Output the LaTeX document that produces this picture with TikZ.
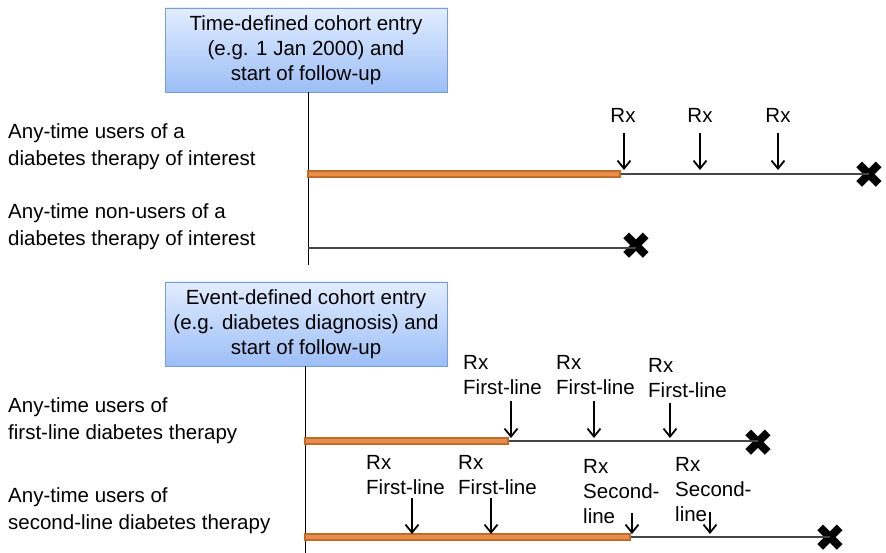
\documentclass[tikz,border=0pt]{standalone}
\usepackage{fontspec}
\setmainfont{Liberation Sans}
\newfontfamily\symfont{DejaVu Sans}
\usetikzlibrary{arrows.meta,calc}
\definecolor{boxtop}{RGB}{226,237,255}
\definecolor{boxbot}{RGB}{156,190,246}
\definecolor{boxborder}{RGB}{120,158,215}
\definecolor{orangeout}{RGB}{192,108,45}
\definecolor{orangein}{RGB}{232,142,72}
\definecolor{tl}{RGB}{70,70,70}
\begin{document}
\begin{tikzpicture}[x=1pt,y=-1pt,
  font=\fontsize{20.5}{27}\selectfont,
  entrybox/.style={draw=boxborder, line width=0.8pt, top color=boxtop, bottom color=boxbot,
    minimum width=282pt, minimum height=84pt, align=center, inner sep=0pt,
    font=\fontsize{20.5}{25}\selectfont},
  lbl/.style={anchor=west, align=left, inner sep=0pt},
  rxlbl/.style={anchor=west, align=left, inner sep=0pt, font=\fontsize{20.5}{25}\selectfont},
  axisline/.style={draw=black, line width=0.8pt},
  follow/.style={draw=tl, line width=1.3pt},
  exposed/.style={draw=orangeout, fill=orangein, line width=1.2pt},
  rxarrow/.style={-{Straight Barb[length=8pt,width=13pt,line width=1.8pt]}, line width=1.8pt},
  death/.style={inner sep=0pt, font=\symfont\fontsize{38}{38}\selectfont}
]
\useasboundingbox (0,0) rectangle (886,553);

% ---------- Time-defined cohort ----------
\node[entrybox] (box1) at (306,50) {Time-defined cohort entry\\(e.g. 1 Jan 2000) and\\start of follow-up};
\coordinate (ax1b) at (308,265);
\draw[axisline] (box1.south -| ax1b) -- (ax1b);

\node[lbl] (l1) at (8,147) {Any-time users of a\\diabetes therapy of interest};
\node[lbl] (l2) at (8,227) {Any-time non-users of a\\diabetes therapy of interest};

% row 1
\coordinate (a1) at (308,174);
\coordinate (s1) at (620,174);
\node[death] (d1) at (869,175) {✖};
\draw[follow] (s1) -- (d1.center |- s1);
\draw[exposed] ($(a1)+(0,-3)$) rectangle ($(s1)+(0,3)$);
\node[rxlbl, anchor=center] (r11) at (623,115) {Rx};
\node[rxlbl, anchor=center] (r12) at (700,115) {Rx};
\node[rxlbl, anchor=center] (r13) at (778,115) {Rx};
\coordinate (t11) at (624,170);
\coordinate (t12) at (700,170);
\coordinate (t13) at (778,170);
\coordinate (f11) at (624,133);
\coordinate (f12) at (700,133);
\coordinate (f13) at (778,133);
\draw[rxarrow] (f11) -- (t11);
\draw[rxarrow] (f12) -- (t12);
\draw[rxarrow] (f13) -- (t13);

% row 2
\coordinate (a2) at (308,248);
\node[death] (d2) at (636,246) {✖};
\draw[follow] (a2) -- (d2.center |- a2);

% ---------- Event-defined cohort ----------
\node[entrybox] (box2) at (306,324) {Event-defined cohort entry\\(e.g. diabetes diagnosis) and\\start of follow-up};
\coordinate (ax2b) at (305,553);
\draw[axisline] (box2.south -| ax2b) -- (ax2b);

\node[lbl] (l3) at (8,421) {Any-time users of\\first-line diabetes therapy};
\node[lbl] (l4) at (8,511) {Any-time users of\\second-line diabetes therapy};

% row 3
\coordinate (a3) at (305,441);
\coordinate (s3) at (508,441);
\node[death] (d3) at (758,443) {✖};
\draw[follow] (s3) -- (d3.center |- s3);
\draw[exposed] ($(a3)+(0,-3)$) rectangle ($(s3)+(0,3)$);
\node[rxlbl] (r31) at (463,375) {Rx\\First-line};
\node[rxlbl] (r32) at (556,375) {Rx\\First-line};
\node[rxlbl] (r33) at (648,378) {Rx\\First-line};
\coordinate (t31) at (511,438);
\coordinate (t32) at (594,438);
\coordinate (t33) at (670,438);
\coordinate (f31) at (511,401);
\coordinate (f32) at (594,401);
\coordinate (f33) at (670,403);
\draw[rxarrow] (f31) -- (t31);
\draw[rxarrow] (f32) -- (t32);
\draw[rxarrow] (f33) -- (t33);

% row 4
\coordinate (a4) at (305,537);
\coordinate (s4) at (630,537);
\node[death] (d4) at (830,538) {✖};
\draw[follow] (s4) -- (d4.center |- s4);
\draw[exposed] ($(a4)+(0,-3)$) rectangle ($(s4)+(0,3)$);
\node[rxlbl] (r41) at (366,475) {Rx\\First-line};
\node[rxlbl] (r42) at (458,475) {Rx\\First-line};
\node[rxlbl] (r43) at (583,492) {Rx\\Second-\\line};
\node[rxlbl] (r44) at (675,490) {Rx\\Second-\\line};
\coordinate (t41) at (412,534);
\coordinate (t42) at (491,534);
\coordinate (t43) at (632,534);
\coordinate (t44) at (710,534);
\coordinate (f41) at (412,498);
\coordinate (f42) at (491,498);
\coordinate (f43) at (632,513);
\coordinate (f44) at (710,512);
\draw[rxarrow] (f41) -- (t41);
\draw[rxarrow] (f42) -- (t42);
\draw[rxarrow] (f43) -- (t43);
\draw[rxarrow] (f44) -- (t44);
\end{tikzpicture}
\end{document}
